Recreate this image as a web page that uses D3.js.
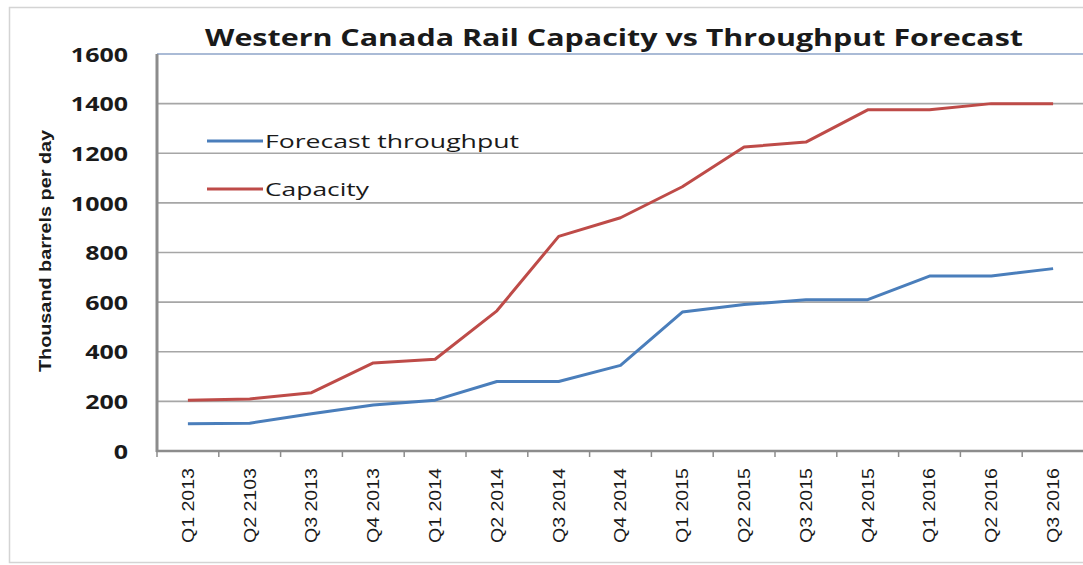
<!DOCTYPE html>
<html><head><meta charset="utf-8">
<script src="https://cdn.jsdelivr.net/npm/d3@7"></script>
<style>body{margin:0;background:#fff}svg{display:block}</style>
</head><body>
<svg id="c" width="1083" height="565"></svg>
<script>
const categories = ["Q1 2013","Q2 2103","Q3 2013","Q4 2013","Q1 2014","Q2 2014","Q3 2014","Q4 2014","Q1 2015","Q2 2015","Q3 2015","Q4 2015","Q1 2016","Q2 2016","Q3 2016"];
const throughput = [110,112,150,185,205,280,280,345,560,590,610,610,705,705,735];
const capacity = [205,210,235,355,370,565,865,940,1065,1225,1245,1375,1375,1400,1400];
const yTicks = [0,200,400,600,800,1000,1200,1400,1600];
const seriesNames = ["Forecast throughput","Capacity"];

const svg = d3.select("#c");
const W = 1083, H = 565;
const m = {left:157, right:W+1, top:54, bottom:451};
const x = d3.scaleBand().domain(categories).range([m.left, m.right]);
const y = d3.scaleLinear().domain([0,1600]).range([m.bottom, m.top]);
const font = "'Open Sans','DejaVu Sans',sans-serif";

// outer frame
svg.append("rect").attr("x",9.5).attr("y",7.5).attr("width",W).attr("height",555)
  .attr("fill","none").attr("stroke","#d4d4d4").attr("stroke-width",1.5);

// gridlines
svg.append("g").selectAll("line").data(yTicks.filter(d=>d>0)).join("line")
  .attr("x1",m.left).attr("x2",W).attr("y1",d=>y(d)).attr("y2",d=>y(d))
  .attr("stroke",d=>d===1600?"#8ea5c8":"#a6a6a6").attr("stroke-width",1.6);

// y axis
const ya = d3.axisLeft(y).tickValues(yTicks).tickFormat(d3.format("d")).tickSize(0);
const yg = svg.append("g").attr("transform",`translate(${m.left},0)`).call(ya);
yg.select(".domain").remove();
yg.selectAll(".tick text").attr("font-family",font).attr("font-weight","bold").attr("font-size",20)
  .attr("fill","#1a1a1a").attr("x",0).attr("dy","0.36em").attr("text-anchor","end")
  .attr("transform","translate(-29,0) scale(1.25,1)");
svg.append("line").attr("x1",m.left).attr("x2",m.left).attr("y1",m.top).attr("y2",m.bottom+1)
  .attr("stroke","#8c8c8c").attr("stroke-width",3);

// x axis
const xa = d3.axisBottom(x).tickSize(0).tickPadding(0);
const xg = svg.append("g").attr("transform",`translate(0,${m.bottom})`).call(xa);
xg.select(".domain").remove();
xg.selectAll(".tick text").attr("font-family","'Liberation Sans Narrow','Liberation Sans',sans-serif")
  .attr("font-size",17).attr("fill","#1a1a1a")
  .attr("transform","rotate(-90)").attr("text-anchor","end")
  .attr("x",-17).attr("y",0).attr("dy","0.35em")
  .attr("textLength",75).attr("lengthAdjust","spacingAndGlyphs");
svg.append("line").attr("x1",m.left-1).attr("x2",W).attr("y1",m.bottom).attr("y2",m.bottom)
  .attr("stroke","#8c8c8c").attr("stroke-width",2.5);
svg.append("g").selectAll("line").data(categories).join("line")
  .attr("x1",d=>x(d)).attr("x2",d=>x(d)).attr("y1",m.bottom).attr("y2",m.bottom+6)
  .attr("stroke","#8c8c8c").attr("stroke-width",1.5);

// lines
const line = d3.line().x((d,i)=>x(categories[i])+x.bandwidth()/2).y(d=>y(d));
svg.append("path").datum(throughput).attr("d",line).attr("fill","none")
  .attr("stroke","#4a7ebb").attr("stroke-width",3).attr("stroke-linejoin","round");
svg.append("path").datum(capacity).attr("d",line).attr("fill","none")
  .attr("stroke","#be4b48").attr("stroke-width",3).attr("stroke-linejoin","round");

// legend
const colors = ["#4a7ebb","#be4b48"];
const legendLens = [254,104];
const lg = svg.append("g").selectAll("g").data(seriesNames).join("g")
  .attr("transform",(d,i)=>`translate(207,${141+i*48})`);
lg.append("line").attr("x1",0).attr("x2",56).attr("stroke",(d,i)=>colors[i]).attr("stroke-width",3);
lg.append("text").attr("x",58).attr("dy","0.35em").text(d=>d)
  .attr("font-family",font).attr("font-size",19).attr("fill","#1a1a1a")
  .attr("textLength",(d,i)=>legendLens[i]).attr("lengthAdjust","spacingAndGlyphs");

// title
svg.append("text").attr("x",614).attr("y",46).attr("text-anchor","middle")
  .attr("font-family",font).attr("font-weight","bold").attr("font-size",24)
  .attr("fill","#1a1a1a").attr("textLength",818).attr("lengthAdjust","spacingAndGlyphs")
  .text("Western Canada Rail Capacity vs Throughput Forecast");

// y title
svg.append("text").attr("transform","translate(51,251) rotate(-90)").attr("text-anchor","middle")
  .attr("font-family","'Liberation Sans Narrow','Liberation Sans',sans-serif").attr("font-weight","bold").attr("font-size",17)
  .attr("fill","#1a1a1a").attr("textLength",242).attr("lengthAdjust","spacingAndGlyphs")
  .text("Thousand barrels per day");
</script>
</body></html>
